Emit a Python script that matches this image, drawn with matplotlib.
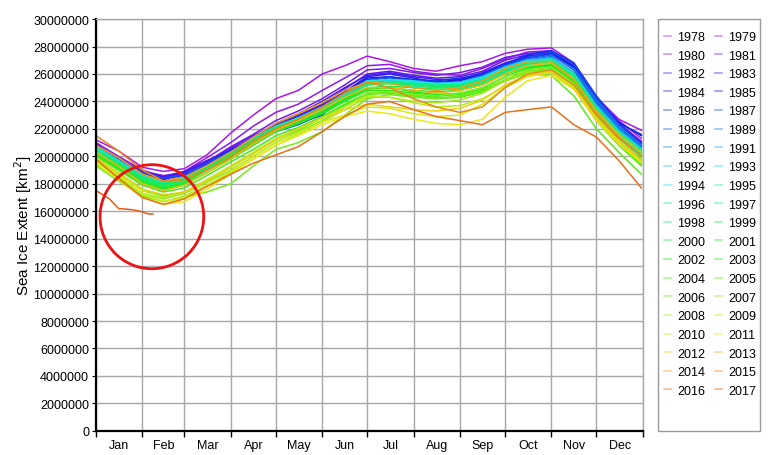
import numpy as np
import matplotlib
matplotlib.use("Agg")
import matplotlib.pyplot as plt
from matplotlib.colors import hsv_to_rgb
from matplotlib.patches import Ellipse, Rectangle

plt.rcParams["font.family"] = ["Liberation Sans", "DejaVu Sans"]

# day of year of each reading (about the 1st and the 15th of each month)
days = [0, 15, 31, 45, 59, 74, 90, 105, 120, 135, 151, 166, 181,
        196, 212, 227, 243, 258, 273, 288, 304, 319, 334, 349, 364]
days_1978 = [298, 304, 319, 334, 349, 364]
days_2017 = [0, 9, 15, 25, 31, 35, 38]

months = ["Jan", "Feb", "Mar", "Apr", "May", "Jun",
          "Jul", "Aug", "Sep", "Oct", "Nov", "Dec"]
month_starts = [0, 31, 59, 90, 120, 151, 181, 212, 243, 273, 304, 334, 365]

# sea ice extent in million km2
ice_1978 = [27.2, 27.6, 26.6, 24.3, 22.6, 21.3]
ice_1979 = [21.2, 20.4, 19.2, 18.9, 19.1, 20.1, 21.7, 23.0, 24.2, 24.8, 26.0, 26.6, 27.3,
            26.9, 26.4, 26.2, 26.6, 26.9, 27.5, 27.8, 27.9, 26.8, 24.3, 22.7, 21.9]
ice_1980 = [21.0, 20.0, 19.0, 18.5, 18.9, 19.9, 21.0, 22.2, 23.2, 23.8, 24.8, 25.7, 26.6,
            26.7, 26.2, 26.0, 25.9, 26.4, 27.1, 27.6, 27.7, 26.5, 24.0, 22.2, 20.8]
ice_1981 = [20.8, 19.9, 18.9, 18.6, 18.8, 19.6, 20.7, 21.6, 22.6, 23.3, 24.2, 25.2, 26.3,
            26.4, 26.1, 25.9, 26.1, 26.5, 27.2, 27.5, 27.6, 26.4, 23.9, 22.1, 20.9]
ice_1982 = [20.3, 19.6, 18.7, 18.4, 18.8, 19.6, 20.6, 21.5, 22.3, 23.0, 23.8, 24.9, 26.0,
            26.2, 25.9, 25.7, 25.8, 26.2, 27.0, 27.4, 27.6, 26.5, 24.1, 22.3, 21.0]
ice_1983 = [20.6, 19.7, 18.9, 18.5, 18.9, 19.7, 20.4, 21.4, 22.4, 23.1, 24.0, 25.0, 25.9,
            26.1, 25.8, 25.6, 25.6, 26.1, 26.8, 27.3, 27.5, 26.6, 24.2, 22.4, 21.1]
ice_1984 = [20.9, 19.8, 18.8, 18.3, 18.7, 19.5, 20.5, 21.3, 22.2, 22.9, 23.7, 24.7, 25.8,
            26.0, 25.7, 25.4, 25.6, 26.0, 26.7, 27.2, 27.4, 26.3, 24.0, 22.0, 20.7]
ice_1985 = [20.7, 19.7, 18.6, 18.2, 18.5, 19.4, 20.3, 21.2, 22.1, 22.8, 23.6, 24.6, 25.7,
            25.8, 25.5, 25.4, 25.5, 26.0, 26.7, 27.3, 27.5, 26.5, 24.2, 22.5, 21.5]
ice_1986 = [20.4, 19.6, 18.7, 18.4, 18.6, 19.3, 20.2, 21.0, 22.0, 22.4, 23.0, 24.5, 25.6,
            25.8, 25.6, 25.5, 25.7, 26.0, 26.7, 27.4, 27.7, 26.8, 24.4, 22.4, 21.6]
ice_1987 = [20.8, 19.8, 18.8, 18.4, 18.7, 19.5, 20.4, 21.1, 21.8, 22.3, 23.1, 24.3, 25.5,
            25.7, 25.5, 25.4, 25.4, 25.9, 26.6, 27.2, 27.6, 26.7, 24.3, 22.3, 20.9]
ice_1988 = [20.6, 19.7, 18.6, 18.1, 18.5, 19.3, 20.2, 21.1, 22.0, 22.6, 23.4, 24.4, 25.4,
            25.6, 25.4, 25.3, 25.4, 25.8, 26.6, 27.1, 27.4, 26.3, 23.9, 22.1, 20.7]
ice_1989 = [20.4, 19.5, 18.5, 18.1, 18.4, 19.3, 20.3, 21.2, 22.1, 22.7, 23.5, 24.5, 25.4,
            25.5, 25.3, 25.2, 25.3, 25.7, 26.5, 27.0, 27.3, 26.4, 24.1, 22.2, 20.8]
ice_1990 = [20.6, 19.6, 18.5, 18.0, 18.3, 19.2, 20.1, 21.1, 22.0, 22.6, 23.4, 24.3, 25.3,
            25.4, 25.3, 25.1, 25.2, 25.6, 26.4, 26.9, 27.2, 26.1, 23.8, 22.0, 20.6]
ice_1991 = [20.5, 19.5, 18.4, 17.9, 18.2, 19.1, 20.0, 20.9, 21.9, 22.5, 23.3, 24.3, 25.3,
            25.5, 25.4, 25.3, 25.3, 25.7, 26.5, 27.0, 27.1, 26.0, 23.6, 21.9, 20.6]
ice_1992 = [20.3, 19.4, 18.3, 17.8, 18.1, 19.0, 20.0, 21.0, 22.0, 22.7, 23.5, 24.5, 25.5,
            25.5, 25.3, 25.2, 25.2, 25.6, 26.4, 26.9, 27.0, 25.9, 23.5, 21.7, 20.4]
ice_1993 = [20.4, 19.5, 18.4, 17.9, 18.3, 19.2, 20.2, 21.1, 22.1, 22.8, 23.6, 24.5, 25.4,
            25.6, 25.5, 25.3, 25.4, 25.8, 26.5, 27.0, 27.1, 26.0, 23.6, 21.8, 20.5]
ice_1994 = [20.7, 19.7, 18.6, 18.1, 18.4, 19.3, 20.2, 21.0, 22.0, 22.7, 23.5, 24.4, 25.3,
            25.4, 25.3, 25.2, 25.3, 25.7, 26.4, 26.8, 27.0, 25.9, 23.4, 21.6, 20.2]
ice_1995 = [20.2, 19.3, 18.3, 17.9, 18.2, 19.1, 20.0, 21.1, 22.1, 22.8, 23.6, 24.6, 25.5,
            25.6, 25.4, 25.3, 25.3, 25.6, 26.3, 26.8, 27.0, 25.8, 23.4, 21.6, 20.3]
ice_1996 = [20.5, 19.5, 18.5, 18.0, 18.4, 19.3, 20.3, 21.3, 22.2, 22.8, 23.5, 24.4, 25.3,
            25.4, 25.3, 25.2, 25.2, 25.5, 26.2, 26.8, 27.1, 26.0, 23.6, 21.8, 20.5]
ice_1997 = [20.6, 19.6, 18.4, 17.9, 18.2, 19.0, 19.9, 20.9, 21.9, 22.6, 23.4, 24.4, 25.3,
            25.3, 25.1, 25.0, 25.0, 25.4, 26.1, 26.6, 26.8, 25.6, 23.2, 21.5, 20.3]
ice_1998 = [20.3, 19.4, 18.3, 17.8, 18.1, 19.1, 20.1, 21.1, 22.0, 22.7, 23.5, 24.4, 25.2,
            25.4, 25.3, 25.2, 25.2, 25.6, 26.3, 26.8, 27.0, 25.9, 23.5, 21.7, 20.4]
ice_1999 = [20.4, 19.5, 18.5, 18.0, 18.3, 19.2, 20.2, 21.1, 22.0, 22.6, 23.4, 24.3, 25.2,
            25.3, 25.2, 25.1, 25.1, 25.5, 26.2, 26.7, 26.9, 25.8, 23.4, 21.6, 20.3]
ice_2000 = [20.3, 19.4, 18.3, 17.9, 18.3, 19.2, 20.2, 21.2, 22.1, 22.7, 23.4, 24.2, 25.0,
            25.1, 25.0, 24.9, 24.9, 25.3, 26.0, 26.5, 26.7, 25.6, 23.2, 21.4, 20.1]
ice_2001 = [20.2, 19.3, 18.2, 17.7, 18.0, 19.0, 20.0, 21.0, 21.9, 22.5, 23.3, 24.2, 25.0,
            25.0, 24.8, 24.7, 24.8, 25.2, 26.0, 26.5, 26.6, 25.4, 23.0, 21.3, 20.0]
ice_2002 = [20.0, 19.1, 18.0, 17.6, 17.9, 18.8, 19.8, 20.8, 21.8, 22.4, 23.2, 24.1, 24.9,
            25.0, 24.7, 24.5, 24.6, 25.0, 25.8, 26.4, 26.6, 25.5, 23.1, 21.3, 20.0]
ice_2003 = [20.1, 19.2, 18.1, 17.7, 18.1, 19.0, 19.9, 20.9, 21.8, 22.4, 23.1, 24.0, 24.8,
            24.8, 24.6, 24.4, 24.5, 24.9, 25.8, 26.4, 26.7, 25.4, 22.9, 21.1, 19.8]
ice_2004 = [20.0, 19.0, 17.9, 17.4, 17.7, 18.6, 19.6, 20.5, 21.5, 22.1, 22.9, 23.8, 24.6,
            24.7, 24.5, 24.3, 24.3, 24.7, 25.5, 26.2, 26.4, 25.1, 22.6, 20.8, 19.4]
ice_2005 = [19.8, 18.8, 17.6, 17.1, 17.4, 18.2, 19.2, 20.2, 21.2, 21.9, 22.8, 23.7, 24.5,
            24.6, 24.4, 24.2, 24.3, 24.8, 25.5, 26.0, 25.9, 24.4, 22.0, 20.3, 18.7]
ice_2006 = [19.3, 18.2, 17.1, 16.7, 17.0, 17.4, 18.0, 19.3, 20.5, 21.0, 21.8, 23.0, 24.2,
            24.5, 24.3, 24.2, 24.4, 24.8, 25.6, 26.2, 26.3, 25.0, 22.6, 20.8, 19.3]
ice_2007 = [19.6, 18.5, 17.3, 16.9, 17.3, 18.1, 19.0, 20.0, 21.0, 21.8, 22.6, 23.6, 24.6,
            24.7, 24.5, 24.4, 24.6, 25.0, 25.8, 26.3, 26.5, 25.3, 22.9, 21.1, 19.6]
ice_2008 = [19.4, 18.4, 17.2, 16.7, 17.1, 17.9, 18.8, 19.8, 20.8, 21.6, 22.5, 23.4, 24.3,
            24.3, 24.0, 23.9, 24.1, 24.6, 25.5, 26.1, 26.3, 25.1, 22.8, 21.0, 19.5]
ice_2009 = [19.8, 18.7, 17.5, 17.0, 17.4, 18.3, 19.3, 20.3, 21.3, 22.0, 22.8, 23.6, 24.4,
            24.3, 23.9, 23.6, 23.7, 24.2, 25.1, 25.9, 26.2, 25.0, 22.7, 21.0, 19.6]
ice_2010 = [19.7, 18.6, 17.3, 16.7, 17.0, 17.9, 18.9, 20.0, 21.0, 21.7, 22.5, 23.0, 23.6,
            23.5, 23.1, 22.9, 23.0, 23.8, 25.0, 25.8, 26.1, 25.0, 22.8, 21.1, 19.7]
ice_2011 = [19.5, 18.3, 17.0, 16.5, 16.7, 17.6, 18.7, 19.8, 20.8, 21.5, 22.3, 22.9, 23.3,
            23.1, 22.7, 22.4, 22.3, 22.7, 24.3, 25.5, 25.9, 24.9, 22.6, 20.9, 19.6]
ice_2012 = [19.9, 18.8, 17.6, 17.2, 17.4, 18.2, 19.2, 20.2, 21.2, 22.0, 22.8, 23.4, 23.8,
            23.6, 23.4, 23.3, 23.5, 24.1, 25.2, 25.9, 26.1, 24.9, 22.7, 21.0, 19.7]
ice_2013 = [20.3, 19.3, 18.0, 17.5, 17.9, 18.8, 19.8, 20.9, 21.9, 22.6, 23.4, 24.3, 25.0,
            25.0, 24.8, 24.6, 24.8, 25.2, 26.0, 26.6, 26.8, 25.6, 23.3, 21.6, 20.3]
ice_2014 = [20.8, 19.9, 18.7, 18.2, 18.5, 19.3, 20.3, 21.4, 22.4, 23.1, 23.9, 24.8, 25.4,
            25.3, 25.0, 24.8, 25.0, 25.5, 26.4, 26.9, 26.9, 25.6, 23.2, 21.4, 20.0]
ice_2015 = [21.5, 20.4, 19.0, 18.2, 18.3, 19.0, 20.0, 21.1, 22.0, 22.7, 23.6, 24.6, 25.4,
            25.0, 24.2, 23.6, 23.2, 23.6, 25.0, 26.0, 26.3, 25.2, 23.0, 21.3, 20.0]
ice_2016 = [19.8, 18.4, 17.0, 16.5, 16.9, 17.8, 18.7, 19.5, 20.1, 20.7, 21.8, 22.9, 23.8,
            24.0, 23.4, 22.9, 22.6, 22.3, 23.2, 23.4, 23.6, 22.3, 21.4, 19.7, 17.7]
ice_2017 = [17.5, 16.9, 16.2, 16.1, 15.95, 15.8, 15.8]

years = list(range(1978, 2018))
series = [ice_1978, ice_1979, ice_1980, ice_1981, ice_1982, ice_1983, ice_1984,
          ice_1985, ice_1986, ice_1987, ice_1988, ice_1989, ice_1990, ice_1991,
          ice_1992, ice_1993, ice_1994, ice_1995, ice_1996, ice_1997, ice_1998,
          ice_1999, ice_2000, ice_2001, ice_2002, ice_2003, ice_2004, ice_2005,
          ice_2006, ice_2007, ice_2008, ice_2009, ice_2010, ice_2011, ice_2012,
          ice_2013, ice_2014, ice_2015, ice_2016, ice_2017]
x_days = [days_1978] + [days] * 38 + [days_2017]

fig, ax = plt.subplots(figsize=(7.68, 4.56), dpi=100)
fig.subplots_adjust(left=0.125, right=0.837, bottom=0.053, top=0.956)

# one rainbow colour per year, purple -> orange
n = len(years)
for i, (year, x, y) in enumerate(zip(years, x_days, series)):
    hue = 0.80 - 0.75 * i / (n - 1)
    color = hsv_to_rgb((hue, 0.9, 0.92))
    ax.plot(x, np.array(y) * 1e6, color=color, lw=1.1, label=str(year))

# red circle round the 2017 minimum
ax.add_patch(Ellipse((37.3, 15.6e6), 69.2, 7.58e6, fill=False,
                     edgecolor="#ee1111", lw=2.0, zorder=5))

ax.set_xlim(0, 365)
ax.set_ylim(0, 30e6)
ax.set_xticks(month_starts)
ax.set_xticklabels([])
mids = [(a + b) / 2 for a, b in zip(month_starts[:-1], month_starts[1:])]
ax.set_xticks(mids, minor=True)
ax.set_xticklabels(months, minor=True, fontsize=9)
ax.tick_params(axis="x", which="minor", length=0, pad=6)
ax.tick_params(axis="x", which="major", length=4, width=1)
yt = list(range(0, 30000001, 2000000))
ax.set_yticks(yt)
ax.set_yticklabels([str(v) for v in yt], fontsize=9)
ax.tick_params(axis="y", length=3, pad=2)
ax.grid(True, which="major", color="#a8a8a8", lw=1.0)
ax.set_axisbelow(True)
for side in ["left", "bottom"]:
    ax.spines[side].set_linewidth(1.6)
for side in ["top", "right"]:
    ax.spines[side].set_color("#a8a8a8")
    ax.spines[side].set_linewidth(1.0)
ax.set_ylabel("Sea Ice Extent [km$^2$]", fontsize=11, labelpad=-1)

# legend: two columns, row by row
handles, labels = ax.get_legend_handles_labels()
order = list(range(0, n, 2)) + list(range(1, n, 2))
leg = fig.legend([handles[k] for k in order], [labels[k] for k in order],
                 ncol=2, loc="upper left", bbox_to_anchor=(0.864, 0.93),
                 frameon=False, fontsize=9, handlelength=0.6,
                 handletextpad=0.5, columnspacing=0.75, labelspacing=0.53,
                 borderaxespad=0, borderpad=0)
for h in leg.legend_handles:
    h.set_alpha(0.5)
fig.patches.append(Rectangle((0.857, 0.053), 0.132, 0.903, transform=fig.transFigure,
                             fill=False, edgecolor="#999999", lw=1.0))

plt.savefig("out.png", dpi=100)
